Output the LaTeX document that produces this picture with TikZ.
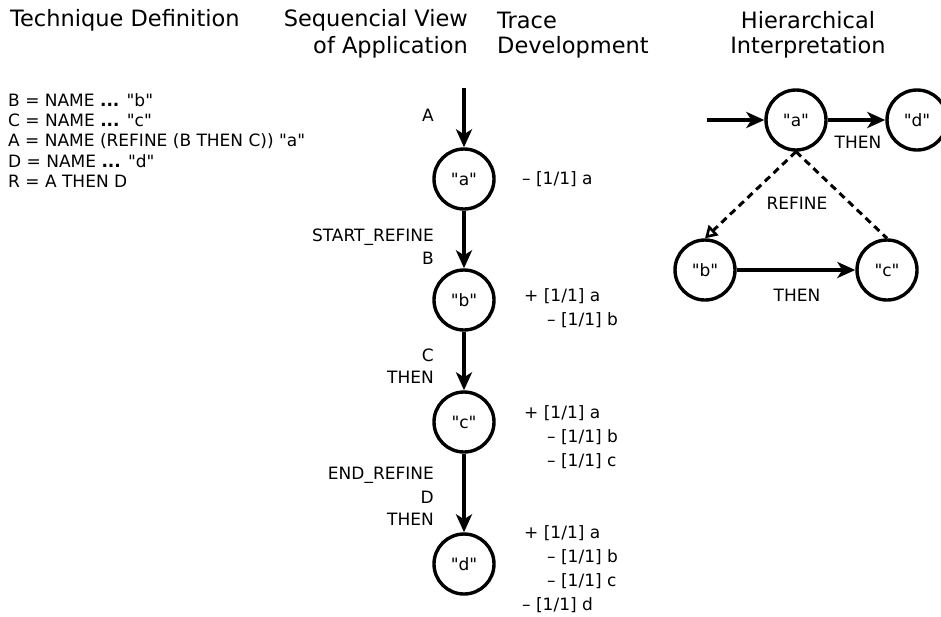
\documentclass[tikz,border=0pt]{standalone}
\usepackage{fontspec}
\setmainfont{DejaVu Sans}[Ligatures=TeXOff]
\usetikzlibrary{arrows.meta}
% straight double quotes around a word
\newcommand\qq[1]{"#1"}
\begin{document}
\begin{tikzpicture}[x=1pt,y=-1pt,
  state/.style={circle,draw,line width=3.4pt,minimum size=60pt,inner sep=0pt,font=\fontsize{17}{19}\selectfont},
  flow/.style={line width=3.4pt,-{Stealth[length=18pt,width=16pt,inset=5pt]}},
  refine/.style={line width=3pt,dash pattern=on 7pt off 5pt},
  head/.style={font=\fontsize{22.5}{26}\selectfont,inner sep=0pt},
  lab/.style={font=\fontsize{17}{20}\selectfont,inner sep=0pt},
]
\useasboundingbox (0,0) rectangle (941,616);
\clip (0,0) rectangle (941,616);

% column headings
\node[head,anchor=west] (h1) at (10,20) {Technique Definition};
\node[head,anchor=east] (h2a) at (468,20) {Sequencial View};
\node[head,anchor=east] (h2b) at (468,47) {of Application};
\node[head,anchor=west] (h3a) at (497,20) {Trace};
\node[head,anchor=west] (h3b) at (497,47) {Development};
\node[head] (h4a) at (808,20) {Hierarchical};
\node[head] (h4b) at (808,47) {Interpretation};

% technique definition
\node[lab,anchor=west] (d1) at (8,100) {B = NAME \textbf{...} \qq{b}};
\node[lab,anchor=west] (d2) at (8,120) {C = NAME \textbf{...} \qq{c}};
\node[lab,anchor=west] (d3) at (8,141) {A = NAME (REFINE (B THEN C)) \qq{a}};
\node[lab,anchor=west] (d4) at (8,161) {D = NAME \textbf{...} \qq{d}};
\node[lab,anchor=west] (d5) at (8,181) {R = A THEN D};

% sequential view
\coordinate (s0) at (464,88);
\node[state] (sa) at (464,179) {\qq{a}};
\node[state] (sb) at (464,300) {\qq{b}};
\node[state] (sc) at (464,422) {\qq{c}};
\node[state] (sd) at (464,564) {\qq{d}};
\draw[flow] (s0) -- (sa);
\draw[flow] (sa) -- (sb);
\draw[flow] (sb) -- (sc);
\draw[flow] (sc) -- (sd);

\node[lab,anchor=east] (l1) at (434,115) {A};
\node[lab,anchor=east] (l2) at (434,237) {START\_REFINE};
\node[lab,anchor=east] (l3) at (434,258) {B};
\node[lab,anchor=east] (l4) at (434,355) {C};
\node[lab,anchor=east] (l5) at (434,377) {THEN};
\node[lab,anchor=east] (l6) at (434,475) {END\_REFINE};
\node[lab,anchor=east] (l7) at (434,497) {D};
\node[lab,anchor=east] (l8) at (434,519) {THEN};

% trace development
\node[lab,anchor=west] (t1) at (522,179) {– [1/1] a};
\node[lab,anchor=west] (t2) at (524,296) {+ [1/1] a};
\node[lab,anchor=west] (t3) at (547,320) {– [1/1] b};
\node[lab,anchor=west] (t4) at (524,413) {+ [1/1] a};
\node[lab,anchor=west] (t5) at (547,437) {– [1/1] b};
\node[lab,anchor=west] (t6) at (547,461) {– [1/1] c};
\node[lab,anchor=west] (t7) at (524,533) {+ [1/1] a};
\node[lab,anchor=west] (t8) at (547,557) {– [1/1] b};
\node[lab,anchor=west] (t9) at (547,581) {– [1/1] c};
\node[lab,anchor=west] (t10) at (522,605) {– [1/1] d};

% hierarchical interpretation
\coordinate (r0) at (707,120);
\node[state] (ra) at (796,120) {\qq{a}};
\node[state] (rd) at (917,120) {\qq{d}};
\node[state] (rb) at (705,270) {\qq{b}};
\node[state] (rc) at (887,270) {\qq{c}};
\draw[flow] (r0) -- (ra);
\draw[flow] (ra) -- (rd);
\draw[flow] (rb) -- (rc);
\draw[refine,-{Triangle[open,length=12pt,width=14pt,line width=2.6pt]}] (ra.south) -- (rb.north);
\draw[refine] (ra.south) -- (rc.north);
\node[lab] (e1) at (858,142) {THEN};
\node[lab] (e2) at (797,203) {REFINE};
\node[lab] (e3) at (797,295) {THEN};
\end{tikzpicture}
\end{document}
